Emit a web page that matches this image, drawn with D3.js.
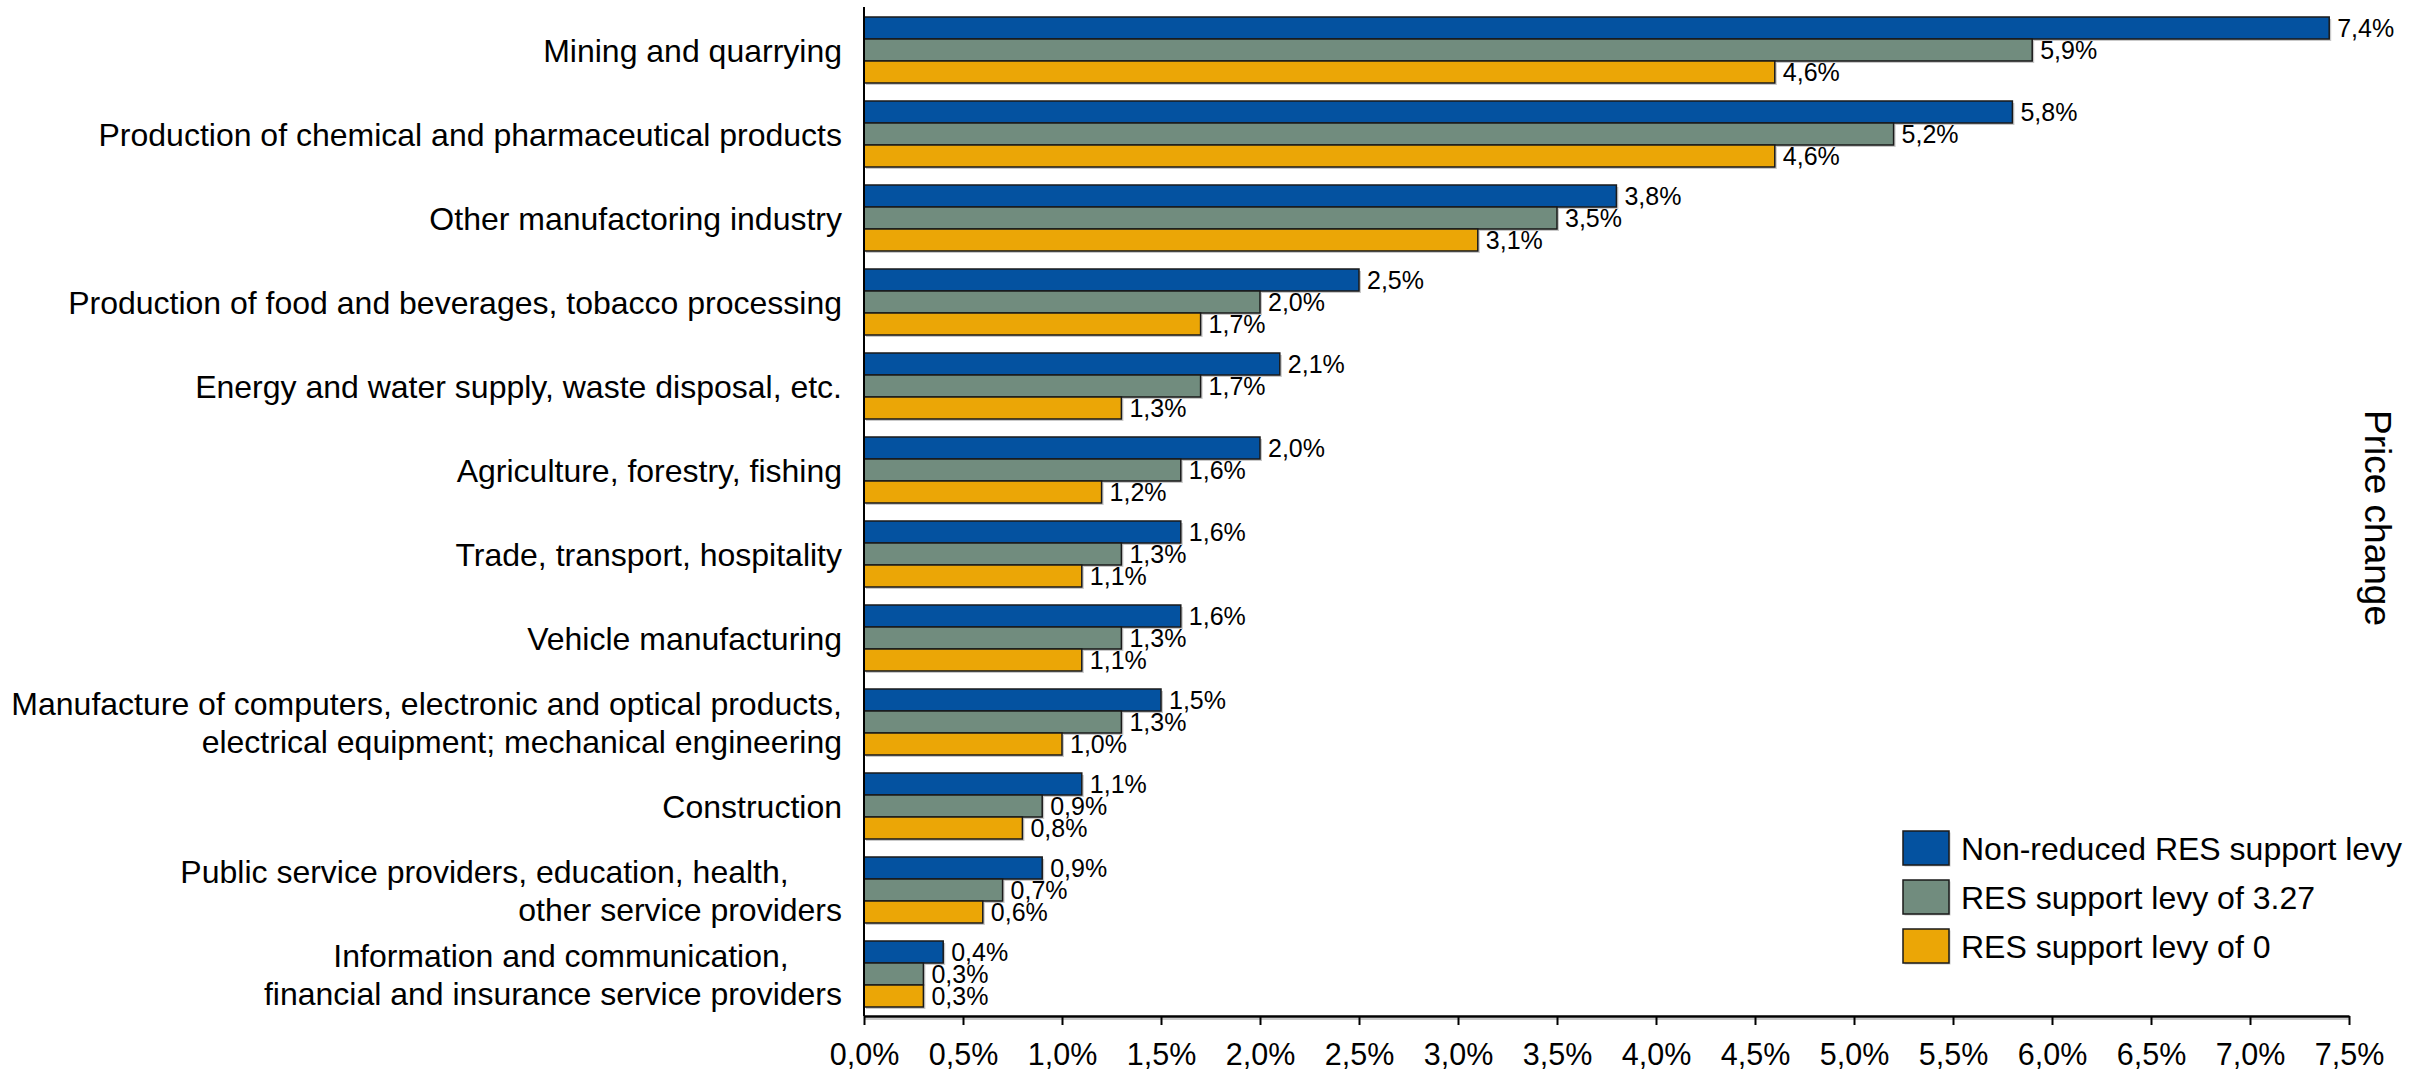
<!DOCTYPE html>
<html>
<head>
<meta charset="utf-8">
<script src="https://cdn.jsdelivr.net/npm/d3@7"></script>
<style>
  html, body { margin: 0; padding: 0; background: #fff; }
  svg { display: block; font-family: "Liberation Sans", Arial, sans-serif; }
  .cat text { white-space: pre; }
</style>
</head>
<body>
<svg id="chart" width="2428" height="1074"></svg>
<script>
// Sectors, top to bottom (multi-line labels split with "\n")
const categories = [
  "Mining and quarrying",
  "Production of chemical and pharmaceutical products",
  "Other manufactoring industry",
  "Production of food and beverages, tobacco processing",
  "Energy and water supply, waste disposal, etc.",
  "Agriculture, forestry, fishing",
  "Trade, transport, hospitality",
  "Vehicle manufacturing",
  "Manufacture of computers, electronic and optical products,\nelectrical equipment; mechanical engineering",
  "Construction",
  "Public service providers, education, health,      \nother service providers",
  "Information and communication,      \nfinancial and insurance service providers"
];

// Price change in percent per scenario
const seriesNames = [
  "Non-reduced RES support levy",
  "RES support levy of 3.27",
  "RES support levy of 0"
];
const nonReduced = [7.4, 5.8, 3.8, 2.5, 2.1, 2.0, 1.6, 1.6, 1.5, 1.1, 0.9, 0.4];
const levy327    = [5.9, 5.2, 3.5, 2.0, 1.7, 1.6, 1.3, 1.3, 1.3, 0.9, 0.7, 0.3];
const levy0      = [4.6, 4.6, 3.1, 1.7, 1.3, 1.2, 1.1, 1.1, 1.0, 0.8, 0.6, 0.3];
const seriesValues = [nonReduced, levy327, levy0];
const seriesColors = ["#0452A0", "#718C7E", "#EBA606"];

const xTicks = [0, 0.5, 1, 1.5, 2, 2.5, 3, 3.5, 4, 4.5, 5, 5.5, 6, 6.5, 7, 7.5];
const axisTitle = "Price change";

const svg = d3.select("#chart");
const W = 2428, H = 1074;
const m = { left: 864, right: 79, top: 8, bottom: 58 };
const plotBottom = H - m.bottom;

const x = d3.scaleLinear().domain([0, 7.5]).range([m.left, W - m.right]);
const y = d3.scaleBand().domain(categories).range([m.top, plotBottom])
  .paddingInner(0.2143).paddingOuter(0.10715);
const ySub = d3.scaleBand().domain(d3.range(seriesNames.length)).range([0, y.bandwidth()]);

const de = d3.formatLocale({ decimal: ",", thousands: ".", grouping: [3], currency: ["", " €"] });
const fmt = v => de.format(".1f")(v) + "%";

// Flatten to one record per bar
const bars = [];
categories.forEach((c, i) => {
  seriesValues.forEach((vals, s) => bars.push({ cat: c, s, v: vals[i] }));
});

// soft drop shadow behind each bar
svg.append("g").selectAll("rect").data(bars).join("rect")
  .attr("x", x(0) + 2)
  .attr("y", d => y(d.cat) + ySub(d.s) + 2)
  .attr("width", d => x(d.v) - x(0))
  .attr("height", ySub.bandwidth())
  .attr("fill", "#c9c9c9");

svg.append("g").selectAll("rect").data(bars).join("rect")
  .attr("x", x(0))
  .attr("y", d => y(d.cat) + ySub(d.s))
  .attr("width", d => x(d.v) - x(0))
  .attr("height", ySub.bandwidth())
  .attr("fill", d => seriesColors[d.s])
  .attr("stroke", "#1a1a1a")
  .attr("stroke-width", 1.5);

// value labels
svg.append("g").selectAll("text").data(bars).join("text")
  .attr("x", d => x(d.v) + 8)
  .attr("y", d => y(d.cat) + ySub(d.s) + ySub.bandwidth() / 2)
  .attr("dy", "0.36em")
  .attr("font-size", 25)
  .attr("fill", "#000")
  .text(d => fmt(d.v));

// x axis shadow + axis
svg.append("line")
  .attr("x1", x(0)).attr("x2", x(7.5))
  .attr("y1", plotBottom + 3).attr("y2", plotBottom + 3)
  .attr("stroke", "#c9c9c9").attr("stroke-width", 2);

const xAxis = svg.append("g")
  .attr("transform", `translate(0,${plotBottom})`)
  .call(d3.axisBottom(x).tickValues(xTicks).tickFormat(fmt).tickSize(9).tickSizeOuter(0).tickPadding(18));
xAxis.select(".domain").attr("stroke", "#000").attr("stroke-width", 2.5);
xAxis.selectAll(".tick line").attr("stroke", "#000").attr("stroke-width", 2);
xAxis.selectAll(".tick text").attr("font-size", 30.5).attr("fill", "#000")
  .attr("font-family", "'Liberation Sans', Arial, sans-serif");

// y axis line
svg.append("line")
  .attr("x1", x(0)).attr("x2", x(0))
  .attr("y1", m.top - 1).attr("y2", plotBottom)
  .attr("stroke", "#000").attr("stroke-width", 2);

// category labels
const lineH = 38;
const cat = svg.append("g").attr("class", "cat");
categories.forEach(c => {
  const lines = c.split("\n");
  const cy = y(c) + y.bandwidth() / 2;
  const t = cat.append("text")
    .attr("text-anchor", "end")
    .attr("font-size", 32)
    .attr("fill", "#000");
  lines.forEach((ln, i) => {
    t.append("tspan")
      .attr("x", x(0) - 22)
      .attr("y", cy + (i - (lines.length - 1) / 2) * lineH)
      .attr("dy", "0.36em")
      .text(ln);
  });
});

// legend
const lg = svg.append("g").attr("transform", "translate(1903,831)");
seriesNames.forEach((n, i) => {
  const g = lg.append("g").attr("transform", `translate(0,${i * 49})`);
  g.append("rect").attr("x", 1.5).attr("y", 1.5).attr("width", 46).attr("height", 34).attr("fill", "#c9c9c9");
  g.append("rect").attr("width", 46).attr("height", 34)
    .attr("fill", seriesColors[i]).attr("stroke", "#1a1a1a").attr("stroke-width", 1.5);
  g.append("text").attr("x", 58).attr("y", 17).attr("dy", "0.36em")
    .attr("font-size", 32).attr("fill", "#000").text(n);
});

// axis title on the right
svg.append("text")
  .attr("transform", "translate(2378,518) rotate(90)")
  .attr("text-anchor", "middle")
  .attr("dy", "0.36em")
  .attr("font-size", 37)
  .attr("fill", "#000")
  .text(axisTitle);
</script>
</body>
</html>
